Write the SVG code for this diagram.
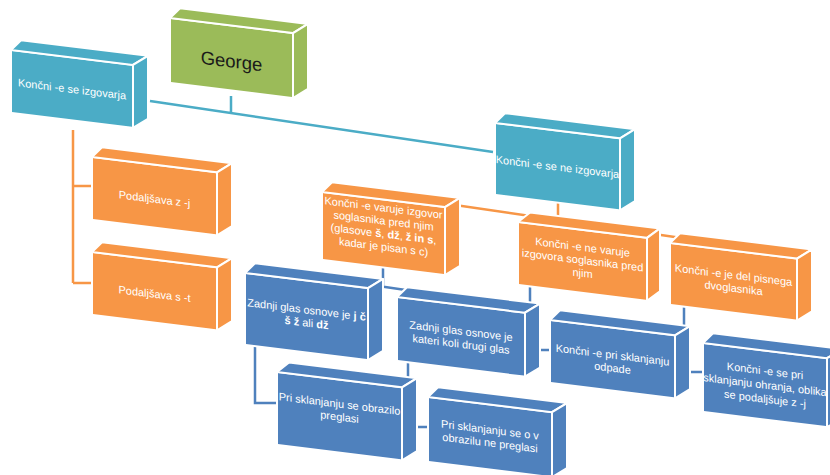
<svg xmlns="http://www.w3.org/2000/svg" width="830" height="475" viewBox="0 0 830 475">
<style>
.f{stroke:#fff;stroke-width:2;stroke-linejoin:round}
.g{fill:#9BBB59}.c{fill:#4BACC6}.o{fill:#F79646}.d{fill:#4F81BD}
.t{font-family:"Liberation Sans",Arial,sans-serif;font-size:11px;fill:#fff;text-anchor:middle}
.b{font-weight:bold}
.k{fill:none;stroke-width:2.5}
.kc{stroke:#4BACC6}.ko{stroke:#F79646}.kd{stroke:#4F81BD}
</style>
<rect width="830" height="475" fill="#fff"/>
<g id="connectors">
  <path class="k kc" d="M231,96 V113 M150,101 L493,152"/>
  <path class="k ko" d="M73,130 V283 M73,186 H92 M73,283 H92"/>
  <path class="k ko" d="M558,203 V220 M383,194.5 L740,246.5"/>
  <path class="k kd" d="M383,267 V287 M310,276 L525,307.5"/>
  <path class="k kd" d="M530,284 V350 H550"/>
  <path class="k kd" d="M684,305 V372 H703"/>
  <path class="k kd" d="M255,345 V403 H277"/>
  <path class="k kd" d="M408,361 V427 H428"/>
</g>
<g id="n-george" transform="translate(170,18) skewY(7)">
  <rect class="f g" width="123" height="65"/>
  <polygon class="f g" points="0,0 10,-11 138,-11 123,0"/>
  <polygon class="f g" points="123,0 138,-11 138,54 123,65"/>
  <text class="t" x="61.5" y="42" style="font-size:18.5px;fill:#1a1a1a">George</text>
</g>
<g id="n-izgovarja" transform="translate(11,50) skewY(7)">
  <rect class="f c" width="122" height="63"/>
  <polygon class="f c" points="0,0 10,-11 137,-11 122,0"/>
  <polygon class="f c" points="122,0 137,-11 137,52 122,63"/>
  <text class="t" x="61" y="35.5">Končni -e se izgovarja</text>
</g>
<g id="n-ne-izgovarja" transform="translate(495,123) skewY(7)">
  <rect class="f c" width="125" height="72"/>
  <polygon class="f c" points="0,0 10,-11 140,-11 125,0"/>
  <polygon class="f c" points="125,0 140,-11 140,61 125,72"/>
  <text class="t" x="62.5" y="40">Končni -e se ne izgovarja</text>
</g>
<g id="n-z-j" transform="translate(92,157) skewY(7)">
  <rect class="f o" width="125" height="63"/>
  <polygon class="f o" points="0,0 10,-11 140,-11 125,0"/>
  <polygon class="f o" points="125,0 140,-11 140,52 125,63"/>
  <text class="t" x="62.5" y="38">Podaljšava z -j</text>
</g>
<g id="n-s-t" transform="translate(92,252) skewY(7)">
  <rect class="f o" width="125" height="63"/>
  <polygon class="f o" points="0,0 10,-11 140,-11 125,0"/>
  <polygon class="f o" points="125,0 140,-11 140,52 125,63"/>
  <text class="t" x="62.5" y="38">Podaljšava s -t</text>
</g>
<g id="n-varuje" transform="translate(322,192) skewY(7)">
  <rect class="f o" width="123" height="68"/>
  <polygon class="f o" points="0,0 10,-11 138,-11 123,0"/>
  <polygon class="f o" points="123,0 138,-11 138,57 123,68"/>
  <text class="t" x="61.5" y="12">Končni -e varuje izgovor</text>
  <text class="t" x="61.5" y="25">soglasnika pred njim</text>
  <text class="t" x="61.5" y="38">(glasove <tspan class="b">š</tspan>, <tspan class="b">dž</tspan>, <tspan class="b">ž in s</tspan>,</text>
  <text class="t" x="61.5" y="51">kadar je pisan s c)</text>
</g>
<g id="n-ne-varuje" transform="translate(518,222) skewY(7)">
  <rect class="f o" width="129" height="63"/>
  <polygon class="f o" points="0,0 12,-11 142,-11 129,0"/>
  <polygon class="f o" points="129,0 142,-11 142,52 129,63"/>
  <text class="t" x="64.5" y="21">Končni -e  ne varuje</text>
  <text class="t" x="64.5" y="34">izgovora soglasnika pred</text>
  <text class="t" x="64.5" y="47">njim</text>
</g>
<g id="n-dvoglasnik" transform="translate(670,243) skewY(7)">
  <rect class="f o" width="127" height="62"/>
  <polygon class="f o" points="0,0 10,-11 142,-11 127,0"/>
  <polygon class="f o" points="127,0 142,-11 142,51 127,62"/>
  <text class="t" x="63.5" y="28">Končni -e je del pisnega</text>
  <text class="t" x="63.5" y="41">dvoglasnika</text>
</g>
<g id="n-jcszdz" transform="translate(245,273) skewY(7)">
  <rect class="f d" width="123" height="72"/>
  <polygon class="f d" points="0,0 10,-11 138,-11 123,0"/>
  <polygon class="f d" points="123,0 138,-11 138,61 123,72"/>
  <text class="t" x="61.5" y="33">Zadnji glas osnove je <tspan class="b">j č</tspan></text>
  <text class="t" x="61.5" y="46"><tspan class="b">š ž</tspan> ali <tspan class="b">dž</tspan></text>
</g>
<g id="n-drugi" transform="translate(397,297) skewY(7)">
  <rect class="f d" width="128" height="64"/>
  <polygon class="f d" points="0,0 10,-11 143,-11 128,0"/>
  <polygon class="f d" points="128,0 143,-11 143,53 128,64"/>
  <text class="t" x="64" y="30">Zadnji glas osnove je</text>
  <text class="t" x="64" y="43">kateri koli drugi glas</text>
</g>
<g id="n-odpade" transform="translate(550,320) skewY(7)">
  <rect class="f d" width="125" height="63"/>
  <polygon class="f d" points="0,0 10,-11 140,-11 125,0"/>
  <polygon class="f d" points="125,0 140,-11 140,52 125,63"/>
  <text class="t" x="62.5" y="31">Končni -e pri sklanjanju</text>
  <text class="t" x="62.5" y="44">odpade</text>
</g>
<g id="n-ohranja" transform="translate(703,343) skewY(7)">
  <rect class="f d" width="124" height="69"/>
  <polygon class="f d" points="0,0 10,-11 139,-11 124,0"/>
  <polygon class="f d" points="124,0 139,-11 139,58 124,69"/>
  <text class="t" x="62" y="24">Končni -e se pri</text>
  <text class="t" x="62" y="38">sklanjanju ohranja, oblika</text>
  <text class="t" x="62" y="52">se podaljšuje z -j</text>
</g>
<g id="n-preglasi" transform="translate(277,372) skewY(7)">
  <rect class="f d" width="125" height="73"/>
  <polygon class="f d" points="0,0 12,-11 140,-11 125,0"/>
  <polygon class="f d" points="125,0 140,-11 140,62 125,73"/>
  <text class="t" x="62.5" y="28">Pri sklanjanju se obrazilo</text>
  <text class="t" x="62.5" y="41">preglasi</text>
</g>
<g id="n-ne-preglasi" transform="translate(428,397) skewY(7)">
  <rect class="f d" width="124" height="65"/>
  <polygon class="f d" points="0,0 10,-11 139,-11 124,0"/>
  <polygon class="f d" points="124,0 139,-11 139,54 124,65"/>
  <text class="t" x="62" y="29">Pri sklanjanju se o v</text>
  <text class="t" x="62" y="42">obrazilu ne preglasi</text>
</g>
</svg>
